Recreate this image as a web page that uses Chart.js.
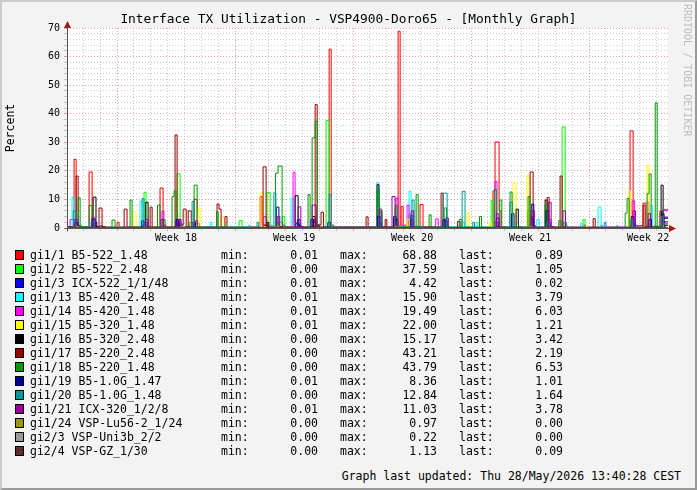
<!DOCTYPE html>
<html>
<head>
<meta charset="utf-8">
<title>Interface TX Utilization - VSP4900-Doro65</title>
<script src="https://cdn.jsdelivr.net/npm/chart.js@4.4.1/dist/chart.umd.min.js"></script>
<style>
  html, body { margin: 0; padding: 0; }
  body {
    width: 697px; height: 490px; position: relative; overflow: hidden;
    background: #f3f3f3; color: #000;
    font-family: "DejaVu Sans Mono", monospace;
  }
  #frame {
    position: absolute; left: 0; top: 0; width: 697px; height: 490px;
    box-sizing: border-box; border: 2px solid;
    border-color: #cbcbcb #999 #999 #cbcbcb;
  }
  #chart { position: absolute; left: 0; top: 0; }
  #title {
    position: absolute; left: 0; top: 11px; width: 697px;
    text-align: center; font-size: 12.85px; line-height: 15px; white-space: pre;
  }
  #ylabel {
    position: absolute; left: -40px; top: 121px; width: 100px; height: 14px;
    line-height: 14px; text-align: center; font-size: 11.5px;
    transform: rotate(-90deg);
  }
  #credit {
    position: absolute; left: 682px; top: 4px; writing-mode: vertical-rl;
    font-size: 10px; color: #bdbdbd; white-space: pre;
  }
  .row { position: absolute; left: 0; width: 697px; height: 14px; font-size: 11.5px; line-height: 14px; white-space: pre; }
  .row span { position: absolute; top: 0; }
  .row .box { left: 15px; top: 2px; width: 7px; height: 8px; border: 1px solid #000; }
  .row .num { text-align: right; }
  #footer {
    position: absolute; right: 16px; top: 469px; font-size: 11.5px; line-height: 14px; white-space: pre;
  }
</style>
</head>
<body>
<div id="frame"></div>
<canvas id="chart" width="697" height="250"></canvas>
<div id="title">Interface TX Utilization - VSP4900-Doro65 - [Monthly Graph]</div>
<div id="ylabel">Percent</div>
<div id="credit">RRDTOOL / TOBI OETIKER</div>
<div id="legend"></div>
<div id="footer">Graph last updated: Thu 28/May/2026 13:40:28 CEST</div>
<script>
// x values are days counted from the start of week 18 (Monday 00:00)
const weekNames = ["Week 18", "Week 19", "Week 20", "Week 21", "Week 22"];
const weekStarts = [0, 7, 14, 21, 28];
const xMin = -2.97;
const xMax = 32.68;
const yMax = 70;

const seriesNames = [
    "gi1/1 B5-522_1.48", "gi1/2 B5-522_2.48", "gi1/3 ICX-522_1/1/48",
    "gi1/13 B5-420_2.48", "gi1/14 B5-420_1.48", "gi1/15 B5-320_1.48",
    "gi1/16 B5-320_2.48", "gi1/17 B5-220_2.48", "gi1/18 B5-220_1.48",
    "gi1/19 B5-1.0G_1.47", "gi1/20 B5-1.0G_1.48", "gi1/21 ICX-320_1/2/8",
    "gi1/24 VSP-Lu56-2_1/24", "gi2/3 VSP-Uni3b_2/2", "gi2/4 VSP-GZ_1/30"
];
const seriesColors = [
    "#ff0000", "#00ff00", "#0000ff", "#00ffff", "#ff00ff", "#ffff00", "#000000",
    "#990000", "#009900", "#000099", "#009999", "#990099", "#999900", "#999999", "#5e2e2e"
];
const minValues = ["0.01", "0.00", "0.01", "0.01", "0.01", "0.01", "0.00", "0.00", "0.00", "0.01", "0.00", "0.01", "0.00", "0.00", "0.00"];
const maxValues = ["68.88", "37.59", "4.42", "15.90", "19.49", "22.00", "15.17", "43.21", "43.79", "8.36", "12.84", "11.03", "0.97", "0.22", "1.13"];
const lastValues = ["0.89", "1.05", "0.02", "3.79", "6.03", "1.21", "3.42", "2.19", "6.53", "1.01", "1.64", "3.78", "0.00", "0.00", "0.09"];

// [day, value] breakpoints; each value holds until the next breakpoint
const gi1_1 = [[-2.97,0.3],[-2.55,24.0],[-2.43,1.2],[-2.3,0.4],[-1.66,19.6],[-1.48,0.8],[-1.3,0.3],[0.0,2.0],[0.12,0.3],
    [2.55,14.0],[2.73,1.0],[2.9,0.3],[4.57,10.0],[4.75,1.5],[4.9,0.3],[8.48,11.0],[8.6,1.0],[8.8,0.3],
    [12.58,62.6],[12.7,1.0],[12.85,0.3],[16.67,68.88],[16.79,1.2],[16.85,7.5],[16.97,0.6],[17.97,8.2],[18.15,0.5],[18.3,0.2],
    [22.3,13.0],[22.42,30.1],[22.66,6.0],[22.78,0.5],[23.0,0.2],[27.7,1.0],[27.8,0.2],[30.43,34.0],[30.61,0.8],
    [31.2,8.7],[31.38,0.6],[32.5,0.89],[32.68,0.89]];
const gi1_2 = [[-2.97,0.2],[-2.3,1.0],[-2.1,0.2],[1.6,12.5],[1.72,1.0],[1.85,0.2],[3.56,19.0],[3.74,1.5],[3.9,0.2],
    [4.3,2.0],[4.45,0.2],[7.24,2.6],[7.42,0.2],[8.9,12.4],[9.08,1.0],[9.2,0.2],[9.8,4.0],[9.95,0.2],
    [12.4,37.59],[12.58,1.5],[12.7,0.2],[16.5,7.0],[16.62,0.5],[17.3,5.0],[17.45,0.3],[22.19,9.6],[22.31,1.0],[22.45,0.2],
    [24.35,6.0],[24.5,0.2],[26.4,35.4],[26.58,1.0],[26.7,0.2],[27.64,3.0],[27.76,0.2],[28.7,1.0],[28.8,0.2],
    [29.6,0.8],[29.7,0.2],[30.38,2.5],[30.5,0.2],[31.5,2.0],[31.6,0.3],[32.5,1.05],[32.68,1.05]];
const gi1_3 = [[-2.97,0.1],[-2.5,1.5],[-2.3,0.1],[-1.4,2.0],[-1.2,0.1],[1.5,1.2],[1.7,0.1],[3.5,2.5],[3.7,0.1],
    [8.7,1.0],[8.85,0.1],[9.6,2.0],[9.8,0.1],[10.6,1.5],[10.8,0.1],[11.6,2.2],[11.8,0.1],[15.5,2.0],[15.7,0.1],
    [16.4,3.0],[16.6,0.1],[17.4,4.42],[17.55,0.1],[19.4,2.5],[19.6,0.1],[22.4,2.0],[22.6,0.1],[24.5,3.0],[24.7,0.1],
    [25.5,2.0],[25.7,0.1],[30.5,3.0],[30.7,0.1],[31.5,2.5],[31.7,0.1],[32.3,2.0],[32.5,0.02],[32.68,0.02]];
const gi1_13 = [[-2.97,0.3],[-2.67,10.8],[-2.55,2.0],[-2.4,0.3],[-1.6,2.0],[-1.4,0.3],[1.36,9.4],[1.54,1.0],[1.7,0.3],
    [5.52,2.0],[5.64,0.3],[7.8,1.0],[7.9,0.2],[10.32,10.5],[10.44,1.0],[10.6,0.3],[15.42,15.9],[15.5,7.8],[15.6,1.0],[15.75,0.3],
    [17.32,12.9],[17.44,1.0],[17.6,0.3],[20.5,2.0],[20.6,0.3],[21.3,2.0],[21.4,0.3],[24.9,3.0],[25.05,0.3],
    [27.5,1.6],[27.6,0.2],[28.53,7.3],[28.71,0.3],[30.5,3.0],[30.65,0.3],[31.6,7.8],[31.75,0.5],[32.4,3.79],[32.68,3.79]];
const gi1_14 = [[-2.97,0.3],[-2.79,3.0],[-2.55,0.5],[-2.4,0.2],[-1.5,2.0],[-1.3,0.2],[1.6,2.0],[1.8,0.2],[2.66,6.0],[2.78,0.3],
    [3.6,3.0],[3.75,0.2],[8.7,4.0],[8.85,0.3],[10.44,19.49],[10.56,2.0],[10.7,0.3],[11.6,3.0],[11.8,0.3],
    [16.55,10.5],[16.67,1.0],[17.2,8.0],[17.32,1.0],[17.5,0.3],[18.9,3.2],[19.05,0.2],[22.42,16.3],[22.54,1.0],[22.7,0.3],
    [24.5,4.0],[24.65,0.3],[25.6,3.0],[25.75,0.3],[30.55,9.5],[30.7,1.0],[30.85,0.3],[31.4,9.0],[31.55,1.0],[31.7,0.3],
    [32.35,6.03],[32.68,6.03]];
const gi1_15 = [[-2.97,0.1],[-2.4,1.0],[-2.3,0.1],[0.95,5.6],[1.13,0.2],[4.8,7.0],[4.92,0.2],[6.17,3.6],[6.35,0.1],
    [8.48,12.3],[8.66,0.5],[8.8,0.1],[9.6,2.0],[9.75,0.1],[15.5,1.5],[15.6,0.1],[17.2,3.0],[17.35,0.1],
    [20.76,5.3],[20.88,0.1],[22.1,2.0],[22.2,0.1],[23.49,15.8],[23.67,0.5],[23.8,0.1],[24.32,18.5],[24.44,0.5],[24.6,0.1],
    [27.8,0.5],[27.9,0.1],[30.33,13.0],[30.45,0.5],[30.6,0.1],[31.44,22.0],[31.56,1.0],[31.7,0.2],[32.4,1.21],[32.68,1.21]];
const gi1_16 = [[-2.97,0.1],[-1.42,10.8],[-1.25,0.5],[-1.1,0.1],[1.7,9.0],[1.84,0.3],[2.0,0.1],[8.9,2.0],[9.0,0.1],
    [10.56,11.3],[10.74,1.0],[10.9,0.1],[11.6,4.0],[11.75,0.1],[15.42,15.17],[15.54,1.0],[15.7,0.1],[16.5,3.0],[16.65,0.1],
    [19.35,2.5],[19.5,0.1],[23.67,6.6],[23.8,0.3],[24.0,0.1],[25.39,9.8],[25.51,0.5],[25.7,0.1],[30.5,3.0],[30.65,0.1],
    [32.27,15.0],[32.39,3.42],[32.68,3.42]];
const gi1_17 = [[-2.97,0.5],[-2.43,18.2],[-2.31,0.8],[-2.2,0.3],[-1.07,7.0],[-0.89,0.5],[-0.7,0.2],[0.42,6.6],[0.59,0.3],
    [1.96,7.3],[2.08,0.3],[3.44,32.6],[3.56,1.0],[3.92,6.6],[4.1,0.3],[4.22,6.0],[4.4,0.3],[5.93,8.4],[6.05,6.6],[6.17,0.3],
    [6.4,4.0],[6.52,0.2],[8.66,21.4],[8.84,1.0],[9.0,0.3],[11.75,43.21],[11.87,1.0],[12.1,5.5],[12.25,0.3],
    [14.77,3.9],[14.89,0.3],[15.9,3.0],[16.0,0.3],[19.22,12.2],[19.34,0.5],[19.5,0.2],[20.2,2.3],[20.35,0.2],
    [24.5,19.6],[24.68,1.0],[24.8,0.2],[25.51,10.7],[25.63,0.5],[25.8,0.2],[26.28,18.2],[26.4,0.5],[26.55,0.2],
    [28.24,3.3],[28.36,0.2],[31.2,8.0],[31.32,0.5],[31.5,0.2],[32.2,5.8],[32.3,2.19],[32.68,2.19]];
const gi1_18 = [[-2.97,0.3],[-2.31,10.6],[-2.19,0.5],[-2.0,0.2],[-1.66,7.9],[-1.48,0.5],[-1.3,0.2],[-0.3,2.8],[-0.12,0.2],
    [0.77,9.8],[0.89,0.3],[2.4,8.0],[2.55,0.5],[2.7,3.0],[2.85,0.2],[3.26,11.0],[3.38,13.0],[3.5,0.5],[3.65,0.2],
    [4.57,15.0],[4.75,0.5],[4.9,0.2],[5.9,5.7],[6.0,0.2],[9.4,19.2],[9.55,21.7],[9.79,1.0],[9.95,0.2],
    [11.33,11.7],[11.45,0.5],[11.57,31.5],[11.75,37.4],[11.87,1.0],[12.0,0.2],[15.42,13.0],[15.54,0.5],[15.6,5.9],[15.72,0.3],
    [16.5,8.0],[16.62,0.3],[17.74,11.7],[17.86,0.5],[18.0,0.2],[18.51,4.6],[18.63,0.2],[19.4,7.0],[19.55,0.2],
    [20.3,3.0],[20.45,0.2],[21.5,4.0],[21.62,0.2],[22.38,13.5],[22.5,0.5],[22.7,9.8],[22.82,0.3],
    [23.31,12.6],[23.43,0.5],[23.6,0.2],[24.38,11.0],[24.5,0.5],[24.65,0.2],[25.39,8.0],[25.51,0.3],[26.2,2.6],[26.34,0.2],
    [30.14,5.2],[30.25,10.3],[30.37,0.5],[30.5,0.2],[31.44,12.0],[31.56,18.9],[31.68,0.5],[31.8,0.2],
    [31.92,43.79],[32.04,0.5],[32.39,6.53],[32.68,6.53]];
const gi1_19 = [[-2.97,0.1],[-2.5,2.0],[-2.35,0.1],[-1.45,3.0],[-1.3,0.1],[1.45,2.5],[1.6,0.1],[3.5,3.0],[3.65,0.1],
    [4.5,2.0],[4.65,0.1],[9.45,7.3],[9.6,0.5],[9.75,0.1],[10.7,3.0],[10.85,0.1],[11.5,3.0],[11.65,0.1],[12.5,2.0],[12.65,0.1],
    [15.45,4.0],[15.6,0.1],[16.4,4.0],[16.55,0.1],[17.4,3.0],[17.55,0.1],[19.3,3.0],[19.45,0.1],[22.5,3.5],[22.65,0.1],
    [23.4,5.0],[23.55,0.1],[24.6,8.36],[24.72,0.3],[24.85,0.1],[25.45,6.0],[25.6,0.1],[30.5,4.0],[30.65,0.1],
    [31.55,3.0],[31.7,0.1],[32.3,5.0],[32.45,1.01],[32.68,1.01]];
const gi1_20 = [[-2.97,0.2],[-2.6,6.0],[-2.45,0.3],[-1.5,2.0],[-1.35,0.2],[1.48,10.3],[1.6,0.5],[1.75,0.2],[4.45,9.3],[4.57,0.3],
    [8.3,2.0],[8.4,0.2],[9.3,12.3],[9.42,0.5],[9.55,0.2],[12.58,11.8],[12.7,0.3],[15.5,3.0],[15.65,0.2],[17.5,9.8],[17.62,0.3],
    [19.34,12.2],[19.58,0.5],[19.7,0.2],[20.47,12.84],[20.64,0.3],[21.1,2.0],[21.2,0.2],[23.3,9.0],[23.45,0.3],
    [25.5,2.0],[25.65,0.2],[26.5,2.0],[26.65,0.2],[28.9,2.0],[29.0,0.2],[30.5,3.0],[30.65,0.2],[32.3,4.0],[32.4,1.64],[32.68,1.64]];
const gi1_21 = [[-2.97,0.2],[-2.5,3.0],[-2.3,0.2],[-1.5,3.5],[-1.3,0.2],[1.7,3.0],[1.85,0.2],[2.6,3.0],[2.75,0.2],
    [3.6,3.0],[3.8,0.2],[4.6,2.5],[4.75,0.2],[9.5,4.0],[9.65,0.2],[10.74,7.4],[10.9,0.5],[11.05,0.2],[11.57,8.0],[11.81,0.5],[12.0,0.2],
    [15.54,6.6],[15.7,0.3],[16.31,11.03],[16.49,0.5],[16.6,0.2],[17.45,6.0],[17.6,0.2],[19.5,3.5],[19.65,0.2],
    [22.5,5.0],[22.65,0.2],[24.6,6.0],[24.75,0.2],[25.6,9.0],[25.75,0.5],[25.9,0.2],[26.45,6.0],[26.6,0.2],
    [30.6,6.0],[30.75,0.2],[31.5,5.0],[31.65,0.2],[32.35,3.78],[32.68,3.78]];
const gi1_24 = [[-2.97,0],[-2.4,0.5],[-2.3,0],[9.5,0.97],[9.6,0],[16.5,0.6],[16.6,0],[24.5,0.4],[24.6,0],[32.68,0]];
const gi2_3 = [[-2.97,0],[3.5,0.22],[3.6,0],[17.4,0.15],[17.5,0],[32.68,0]];
const gi2_4 = [[-2.97,0.1],[-1.0,0.8],[-0.9,0.1],[4.2,0.6],[4.3,0.1],[11.9,1.13],[12.0,0.1],[18.5,0.5],[18.6,0.1],
    [25.4,0.7],[25.5,0.1],[31.9,0.6],[32.0,0.09],[32.68,0.09]];

const seriesData = [gi1_1, gi1_2, gi1_3, gi1_13, gi1_14, gi1_15, gi1_16, gi1_17, gi1_18, gi1_19, gi1_20, gi1_21, gi1_24, gi2_3, gi2_4];

const majorGrid = "rgba(235, 90, 90, 0.6)";
const minorGrid = "rgba(140, 140, 140, 0.45)";
const monoFont = "DejaVu Sans Mono";

// legend rows (html text)
const legend = document.getElementById("legend");
seriesNames.forEach((name, i) => {
    const row = document.createElement("div");
    row.className = "row";
    row.style.top = (248 + i * 14) + "px";
    row.innerHTML =
        `<span class="box" style="background:${seriesColors[i]}"></span>` +
        `<span style="left:30px">${name}</span>` +
        `<span style="left:221px">min:</span>` +
        `<span class="num" style="left:268px;width:50px">${minValues[i]}</span>` +
        `<span style="left:340px">max:</span>` +
        `<span class="num" style="left:387px;width:50px">${maxValues[i]}</span>` +
        `<span style="left:459px">last:</span>` +
        `<span class="num" style="left:513px;width:50px">${lastValues[i]}</span>`;
    legend.appendChild(row);
});

// day grid lines plus one label position in the middle of every week
const weekMids = weekStarts.map(d => d + 3.5);
const xTickValues = [];
for (let d = Math.ceil(xMin); d <= Math.floor(xMax); d++) xTickValues.push(d);
weekMids.forEach(m => xTickValues.push(m));
xTickValues.sort((a, b) => a - b);

const canvasBack = {
    id: "canvasBack",
    beforeDraw(chart) {
        const {ctx, chartArea} = chart;
        ctx.save();
        ctx.fillStyle = "#ffffff";
        ctx.fillRect(chartArea.left, chartArea.top, chartArea.right - chartArea.left, chartArea.bottom - chartArea.top);
        ctx.restore();
    }
};

const axisArrows = {
    id: "axisArrows",
    afterDraw(chart) {
        const {ctx, chartArea} = chart;
        const x0 = Math.round(chartArea.left) + 0.5;
        const y0 = Math.round(chartArea.bottom) + 0.5;
        ctx.save();
        ctx.strokeStyle = "#555";
        ctx.lineWidth = 1;
        ctx.beginPath();
        ctx.moveTo(x0, y0 + 3);
        ctx.lineTo(x0, chartArea.top - 5);
        ctx.moveTo(x0 - 3, y0);
        ctx.lineTo(chartArea.right + 5, y0);
        ctx.stroke();
        ctx.fillStyle = "#a01818";
        ctx.beginPath();
        ctx.moveTo(x0, chartArea.top - 7);
        ctx.lineTo(x0 - 3.5, chartArea.top);
        ctx.lineTo(x0 + 3.5, chartArea.top);
        ctx.closePath();
        ctx.fill();
        ctx.beginPath();
        ctx.moveTo(chartArea.right + 8, y0);
        ctx.lineTo(chartArea.right + 1, y0 - 3.5);
        ctx.lineTo(chartArea.right + 1, y0 + 3.5);
        ctx.closePath();
        ctx.fill();
        ctx.restore();
    }
};

const datasets = seriesData.map((pts, i) => ({
    label: seriesNames[i],
    data: pts.map(p => ({x: p[0], y: p[1]})),
    borderColor: seriesColors[i],
    backgroundColor: seriesColors[i],
    borderWidth: 1,
    stepped: "before",
    pointRadius: 0,
    fill: false,
    order: -i
}));

new Chart(document.getElementById("chart"), {
    type: "line",
    data: {datasets: datasets},
    plugins: [canvasBack, axisArrows],
    options: {
        responsive: false,
        animation: false,
        devicePixelRatio: 1,
        layout: {padding: {top: 28, right: 29, left: 0, bottom: 0}},
        plugins: {
            legend: {display: false},
            title: {display: false},
            tooltip: {enabled: false}
        },
        scales: {
            x: {
                type: "linear",
                min: xMin,
                max: xMax,
                afterBuildTicks: (scale) => {
                    scale.ticks = xTickValues.map(v => ({value: v}));
                },
                afterFit: (scale) => { scale.height = 22; },
                ticks: {
                    autoSkip: false,
                    maxRotation: 0,
                    minRotation: 0,
                    padding: 1,
                    color: "#000",
                    font: {family: monoFont, size: 10},
                    callback: (value) => {
                        const k = weekMids.indexOf(value);
                        return k >= 0 ? weekNames[k] : "";
                    }
                },
                grid: {
                    color: (c) => {
                        const v = c.tick ? c.tick.value : 0;
                        if (weekMids.indexOf(v) >= 0) return "rgba(0,0,0,0)";
                        return v % 7 === 0 ? majorGrid : minorGrid;
                    },
                    tickLength: 3,
                    tickBorderDash: []
                },
                border: {display: false, dash: [1, 2]}
            },
            y: {
                min: 0,
                max: yMax,
                afterFit: (scale) => { scale.width = 67; },
                ticks: {
                    stepSize: 2,
                    autoSkip: false,
                    padding: 4,
                    color: "#000",
                    font: {family: monoFont, size: 10},
                    callback: (value) => value % 10 === 0 ? String(value) : ""
                },
                grid: {
                    color: (c) => (c.tick && c.tick.value % 10 === 0) ? majorGrid : minorGrid,
                    tickLength: 3,
                    tickBorderDash: []
                },
                border: {display: false, dash: [1, 2]}
            }
        }
    }
});
</script>
</body>
</html>
